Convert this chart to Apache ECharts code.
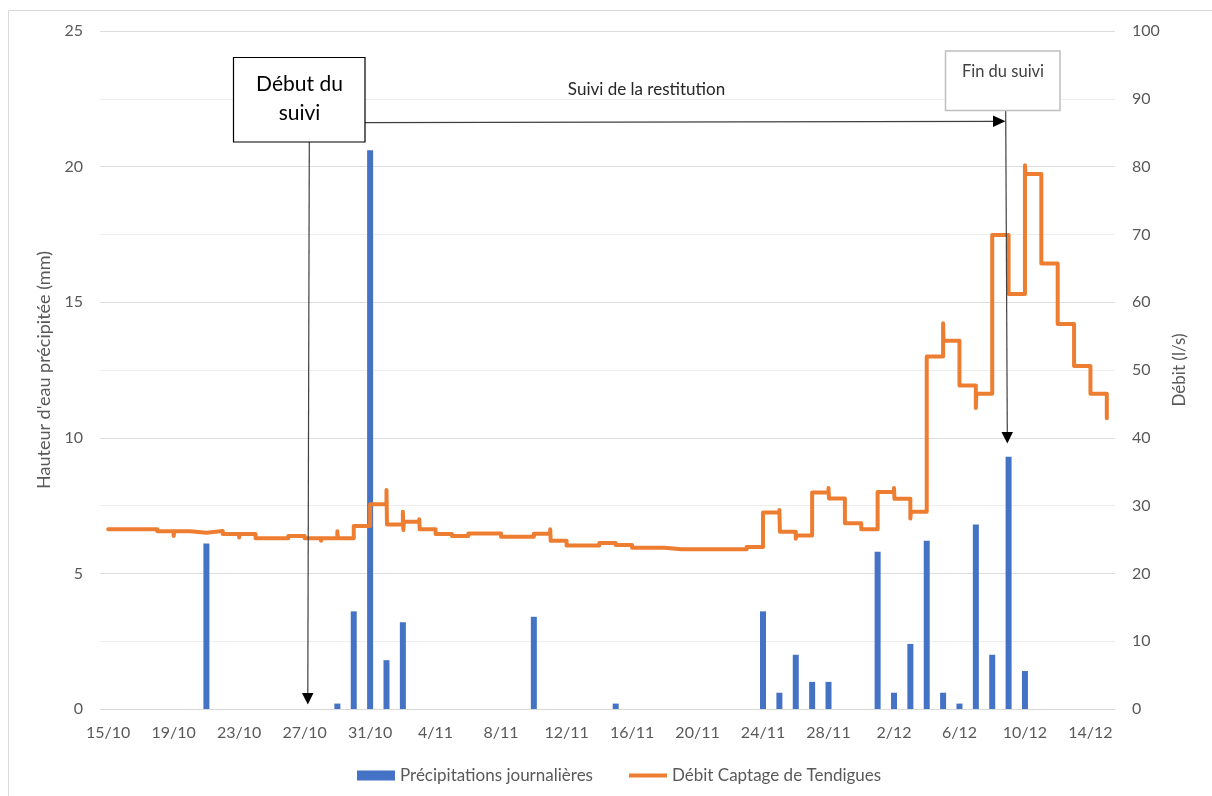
<!DOCTYPE html>
<html>
<head>
<meta charset="utf-8">
<script src="https://cdn.jsdelivr.net/npm/echarts@6/dist/echarts.min.js"></script>
<style>
  html, body { margin: 0; padding: 0; background: #fff; }
  #chart { width: 1212px; height: 796px; }
</style>
</head>
<body>
<div id="chart"></div>
<script>
// jours (15/10 -> 15/12)
const categories = [
    '15/10', '16/10', '17/10', '18/10', '19/10', '20/10', '21/10', '22/10', '23/10', '24/10',
    '25/10', '26/10', '27/10', '28/10', '29/10', '30/10', '31/10', '1/11', '2/11', '3/11',
    '4/11', '5/11', '6/11', '7/11', '8/11', '9/11', '10/11', '11/11', '12/11', '13/11',
    '14/11', '15/11', '16/11', '17/11', '18/11', '19/11', '20/11', '21/11', '22/11', '23/11',
    '24/11', '25/11', '26/11', '27/11', '28/11', '29/11', '30/11', '1/12', '2/12', '3/12',
    '4/12', '5/12', '6/12', '7/12', '8/12', '9/12', '10/12', '11/12', '12/12', '13/12',
    '14/12', '15/12'
]

// précipitations journalières (mm)
const precipitations = [
    0, 0, 0, 0, 0, 0, 6.1, 0, 0, 0,
    0, 0, 0, 0, 0.2, 3.6, 20.6, 1.8, 3.2, 0,
    0, 0, 0, 0, 0, 0, 3.4, 0, 0, 0,
    0, 0.2, 0, 0, 0, 0, 0, 0, 0, 0,
    3.6, 0.6, 2.0, 1.0, 1.0, 0, 0, 5.8, 0.6, 2.4,
    6.2, 0.6, 0.2, 6.8, 2.0, 9.3, 1.4, 0, 0, 0,
    0, 0
]

// débit (l/s), palier tenu d'un jour au suivant
const debit = [
    26.5, 26.5, 26.5, 26.2, 26.2, 26.0, 26.25, 25.8, 25.8, 25.2,
    25.2, 25.5, 25.2, 25.2, 25.2, 27.0, 30.2, 27.2, 27.6, 26.5,
    25.8, 25.5, 25.9, 25.9, 25.4, 25.4, 25.85, 24.8, 24.1, 24.1,
    24.5, 24.2, 23.8, 23.8, 23.55, 23.55, 23.55, 23.55, 23.55, 23.9,
    29.0, 26.15, 25.6, 31.95, 31.05, 27.4, 26.5, 32.0, 31.0, 29.1,
    52.0, 54.3, 47.7, 46.5, 69.9, 61.2, 78.9, 65.7, 56.8, 50.6,
    46.5, 42.9
]

// pics ponctuels aux changements de palier [jour, débit]
const pics = [
    [4, 25.5], [8, 25.3], [13, 24.8], [14, 26.2], [17, 32.3], [18, 29.1], [18, 26.4],
    [19, 28.0], [27, 26.5], [41, 29.35], [42, 25.1], [44, 32.6], [48, 32.6], [49, 28.1],
    [51, 56.9], [53, 44.4], [56, 80.2]
]

const FONT = 'Lato'
const GREY = '#595959'

const buildLine = () => {
    let out = []
    debit.forEach((v, i) => {
        let x = i
        pics.filter(p => p[0] === i).forEach(p => {
            out.push([x, p[1]])
            x += 0.03
        })
        out.push([x, v])
    })
    return out
}

const gridLine = { show: true, lineStyle: { color: 'rgba(0,0,0,0.07)', width: 1 } }

const chart = echarts.init(document.getElementById('chart'))
const option = {
    animation: false,
    textStyle: { fontFamily: FONT },
    grid: { left: 100, right: 97, top: 31, bottom: 87 },
    legend: {
        top: 762,
        left: 352,
        itemWidth: 38,
        itemHeight: 10,
        itemGap: 36,
        textStyle: { color: GREY, fontSize: 17, fontFamily: FONT },
        data: [
            { name: 'Précipitations journalières', icon: 'rect' },
            { name: 'Débit Captage de Tendigues', icon: 'path://M0,0 L40,0 L40,4 L0,4 Z' }
        ]
    },
    xAxis: [
        {
            type: 'category',
            data: categories,
            boundaryGap: true,
            axisLine: { lineStyle: { color: '#d9d9d9' } },
            axisTick: { show: false },
            axisLabel: { interval: 3, color: GREY, fontSize: 16, margin: 16, fontFamily: FONT }
        },
        {
            type: 'value',
            min: -0.5,
            max: 61.5,
            show: false
        }
    ],
    yAxis: [
        {
            type: 'value',
            min: 0,
            max: 25,
            interval: 5,
            name: "Hauteur d'eau précipitée (mm)",
            nameLocation: 'middle',
            nameRotate: 90,
            nameGap: 45,
            nameTextStyle: { color: GREY, fontSize: 18, fontFamily: FONT },
            axisLine: { show: false },
            axisTick: { show: false },
            axisLabel: { color: GREY, fontSize: 16, margin: 17, fontFamily: FONT },
            splitLine: gridLine
        },
        {
            type: 'value',
            min: 0,
            max: 100,
            interval: 10,
            position: 'right',
            name: 'Débit (l/s)',
            nameLocation: 'middle',
            nameRotate: 90,
            nameGap: 56,
            nameTextStyle: { color: GREY, fontSize: 17, fontFamily: FONT },
            axisLine: { show: false },
            axisTick: { show: false },
            axisLabel: { color: GREY, fontSize: 16, margin: 17, fontFamily: FONT },
            splitLine: gridLine
        }
    ],
    series: [
        {
            name: 'Précipitations journalières',
            type: 'bar',
            xAxisIndex: 0,
            yAxisIndex: 0,
            barWidth: 6,
            itemStyle: { color: '#4472c4' },
            data: precipitations
        },
        {
            name: 'Débit Captage de Tendigues',
            type: 'line',
            xAxisIndex: 1,
            yAxisIndex: 1,
            step: 'end',
            symbol: 'none',
            lineStyle: { color: '#ed7d31', width: 4, join: 'round', cap: 'round' },
            itemStyle: { color: '#ed7d31' },
            data: buildLine()
        }
    ],
    graphic: [
        // cadre extérieur
        {
            type: 'rect', silent: true, z: 0,
            shape: { x: 8.5, y: 10.5, width: 1230, height: 820 },
            style: { fill: 'none', stroke: '#d9d9d9', lineWidth: 1 }
        },
        // flèche début
        {
            type: 'line', z: 50,
            shape: { x1: 309.3, y1: 142, x2: 307.8, y2: 694 },
            style: { stroke: '#404040', lineWidth: 1.2 }
        },
        {
            type: 'polygon', z: 50,
            shape: { points: [[302, 693], [313.5, 693], [307.8, 704.5]] },
            style: { fill: '#000' }
        },
        // flèche horizontale
        {
            type: 'line', z: 50,
            shape: { x1: 365, y1: 122.7, x2: 994, y2: 121.3 },
            style: { stroke: '#404040', lineWidth: 1.2 }
        },
        {
            type: 'polygon', z: 50,
            shape: { points: [[993, 115.6], [993, 127], [1005.5, 121.3]] },
            style: { fill: '#000' }
        },
        // flèche fin
        {
            type: 'line', z: 50,
            shape: { x1: 1005.7, y1: 110.5, x2: 1007.3, y2: 433 },
            style: { stroke: '#404040', lineWidth: 1.2 }
        },
        {
            type: 'polygon', z: 50,
            shape: { points: [[1001.5, 432], [1013, 432], [1007.3, 443.5]] },
            style: { fill: '#000' }
        },
        // boîte début du suivi
        {
            type: 'rect', z: 60,
            shape: { x: 233.5, y: 57.5, width: 131.5, height: 84.5 },
            style: { fill: '#fff', stroke: '#000', lineWidth: 1.2 }
        },
        {
            type: 'text', z: 61,
            x: 299.5, y: 99,
            style: {
                text: 'Début du\nsuivi',
                font: '21px Lato',
                fill: '#000',
                align: 'center',
                verticalAlign: 'middle',
                lineHeight: 29
            }
        },
        // boîte fin du suivi
        {
            type: 'rect', z: 60,
            shape: { x: 945.5, y: 51, width: 114.5, height: 59.5 },
            style: { fill: '#fff', stroke: '#bfbfbf', lineWidth: 1.5 }
        },
        {
            type: 'text', z: 61,
            x: 1003, y: 72,
            style: {
                text: 'Fin du suivi',
                font: '16.5px Lato',
                fill: '#404040',
                align: 'center',
                verticalAlign: 'middle'
            }
        },
        {
            type: 'text', z: 61,
            x: 646.5, y: 90,
            style: {
                text: 'Suivi de la restitution',
                font: '17px Lato',
                fill: '#262626',
                align: 'center',
                verticalAlign: 'middle'
            }
        }
    ]
}
chart.setOption(option)
</script>
</body>
</html>
